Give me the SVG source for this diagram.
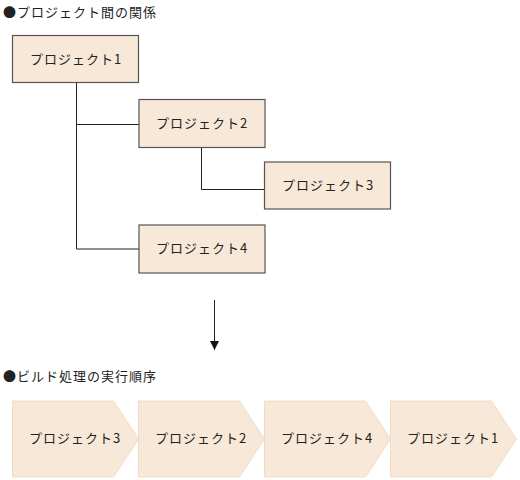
<svg xmlns="http://www.w3.org/2000/svg" width="520" height="480" viewBox="0 0 520 480">
<style>
text{font-family:"Noto Sans CJK JP","Noto Sans CJK SC",sans-serif;font-size:13px;fill:#222;letter-spacing:1px}
.box{fill:#f8e8d8;stroke:#555;stroke-width:1.2}
.chev{fill:#f8e8d8;stroke:#f0dcc6;stroke-width:1}
.lbl{text-anchor:middle}
.conn{fill:none;stroke:#222;stroke-width:1}
</style>
<defs>
<marker id="ah" viewBox="0 0 10 10" refX="10" refY="5" markerWidth="9" markerHeight="14" markerUnits="userSpaceOnUse" orient="auto">
<path d="M0,0 L10,5 L0,10 Z" fill="#111"/>
</marker>
</defs>
<text x="3" y="17">●プロジェクト間の関係</text>
<g id="connectors">
<path class="conn" d="M76.5,83 V249 H139"/>
<path class="conn" d="M76.5,124.5 H139"/>
<path class="conn" d="M201.5,147 V189.5 H264.5"/>
<path class="conn" d="M214.5,300 V350" marker-end="url(#ah)"/>
</g>
<g id="p1"><rect class="box" x="12.5" y="35.5" width="126" height="47"/><text class="lbl" x="76" y="64">プロジェクト1</text></g>
<g id="p2"><rect class="box" x="139" y="99.5" width="126" height="48"/><text class="lbl" x="202" y="128">プロジェクト2</text></g>
<g id="p3"><rect class="box" x="264.5" y="162" width="126" height="47"/><text class="lbl" x="328" y="190">プロジェクト3</text></g>
<g id="p4"><rect class="box" x="139" y="225" width="126" height="48"/><text class="lbl" x="202" y="253">プロジェクト4</text></g>
<text x="3" y="381">●ビルド処理の実行順序</text>
<g id="s1"><path class="chev" d="M12.5,401 H113.5 L138.5,439 L113.5,477 H12.5 Z"/><text class="lbl" x="75" y="443">プロジェクト3</text></g>
<g id="s2"><path class="chev" d="M138.5,401 H239.5 L264.5,439 L239.5,477 H138.5 Z"/><text class="lbl" x="201" y="443">プロジェクト2</text></g>
<g id="s3"><path class="chev" d="M264.5,401 H365.5 L390.5,439 L365.5,477 H264.5 Z"/><text class="lbl" x="327" y="443">プロジェクト4</text></g>
<g id="s4"><path class="chev" d="M390.5,401 H491.5 L516.5,439 L491.5,477 H390.5 Z"/><text class="lbl" x="453" y="443">プロジェクト1</text></g>
</svg>
